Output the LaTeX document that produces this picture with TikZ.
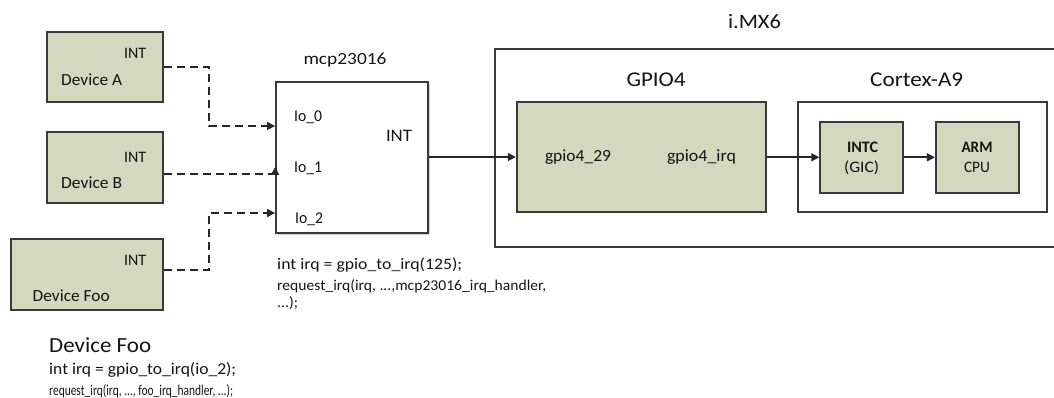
\documentclass[tikz,border=0pt]{standalone}
\usepackage{fontspec}
\usepackage{graphicx}
\setmainfont{Carlito}
\usetikzlibrary{arrows.meta,shadows}
\definecolor{khaki}{HTML}{D3D8BE}
\definecolor{edge}{HTML}{3A3A3A}
% #1 = font size, #2 = target width, #3 = text
\newcommand\fw[3]{{\fontsize{#1}{#1}\selectfont\resizebox{#2pt}{\height}{#3}}}
\tikzset{
  box/.style={draw=edge, line width=1.8pt, inner sep=0pt},
  kbox/.style={box, fill=khaki},
  wbox/.style={box, fill=white},
  conn/.style={draw=black!85, line width=1.6pt, -{Triangle[length=8pt,width=8pt]}},
  dconn/.style={conn, dash pattern=on 8pt off 5pt},
  txt/.style={inner sep=0pt, text=black!92},
  ltxt/.style={txt, anchor=west},
}
\begin{document}
\begin{tikzpicture}[x=1pt,y=-1pt]
\useasboundingbox (0,0) rectangle (1054,398);
% devices
\node[kbox, minimum width=116pt, minimum height=70pt] (devA) at (105,67) {};
\node[kbox, minimum width=116pt, minimum height=71pt] (devB) at (105,167.5) {};
\node[kbox, minimum width=152pt, minimum height=71pt] (devF) at (87,274.5) {};
\node[txt] (intA) at (135,53) {\fw{16}{22}{INT}};
\node[txt] (intB) at (135,157) {\fw{16}{22}{INT}};
\node[txt] (intF) at (135,260) {\fw{16}{22}{INT}};
\node[ltxt] (nA) at (61,80) {\fw{17}{61}{Device A}};
\node[ltxt] (nB) at (61,183) {\fw{17}{61}{Device B}};
\node[ltxt] (nF) at (32.5,296) {\fw{17}{77}{Device Foo}};
% mcp23016
\node[wbox, drop shadow={shadow xshift=2pt, shadow yshift=-2pt, opacity=0.35}, minimum width=152pt, minimum height=151pt] (mcp) at (352,157.5) {};
\node[txt] (mcpt) at (345,60) {\fw{17}{83}{mcp23016}};
\node[ltxt] (io0) at (294,117) {\fw{16.5}{28}{Io\_0}};
\node[ltxt] (io1) at (294,168.5) {\fw{16.5}{28}{Io\_1}};
\node[ltxt] (io2) at (295,219.5) {\fw{16.5}{28}{Io\_2}};
\node[txt] (mint) at (399,136) {\fw{17.5}{26}{INT}};
\coordinate (p0) at (mcp.west |- 0,126);
\coordinate (p1) at (mcp.west |- 0,167);
\coordinate (p2) at (mcp.west |- 0,213);
\draw[dconn] (devA.east |- 0,67) -| (209,126) -- (p0);
\draw[dconn] (devB.east |- 0,174) -| (p1);
\draw[dconn] (devF.east |- 0,270) -| (209,213) -- (p2);
\node[ltxt] (c1) at (277,265) {\fw{16}{185}{int irq = gpio\_to\_irq(125);}};
\node[ltxt] (c2) at (277,286) {\fw{15}{269}{request\_irq(irq, ...,mcp23016\_irq\_handler,}};
\node[ltxt] (c3) at (277,303) {\fw{15}{21}{...);}};
% i.MX6
\node[wbox, minimum width=561pt, minimum height=198pt] (imx) at (775.5,148) {};
\node[txt] (imxt) at (754.5,22) {\fw{20.5}{53}{i.MX6}};
\node[kbox, minimum width=249pt, minimum height=110pt] (gpio) at (641.2,157.3) {};
\node[txt] (gpiot) at (656,79.5) {\fw{21}{59}{GPIO4}};
\node[txt] (g29) at (578,157.5) {\fw{17}{66}{gpio4\_29}};
\node[txt] (girq) at (701.5,157.5) {\fw{17}{69}{gpio4\_irq}};
\node[wbox, minimum width=249pt, minimum height=110pt] (cortex) at (922.2,157.3) {};
\node[txt] (cortext) at (916.7,79.5) {\fw{21}{93}{Cortex-A9}};
\node[kbox, minimum width=83pt, minimum height=71pt] (intc) at (861.7,157.8) {};
\node[kbox, minimum width=83pt, minimum height=71pt] (arm) at (977.3,157.8) {};
\node[txt] (intct) at (862.5,147.5) {\fw{16}{31}{\bfseries INTC}};
\node[txt] (gict) at (861.5,167.5) {\fw{16}{35}{(GIC)}};
\node[txt] (armt) at (977,147.5) {\fw{16}{31}{\bfseries ARM}};
\node[txt] (cput) at (977,167.5) {\fw{16}{26}{CPU}};
\draw[conn] (mcp.east |- 0,157) -- (gpio.west |- 0,157);
\draw[conn] (gpio.east |- 0,157.3) -- (intc.west |- 0,157.3);
\draw[conn] (intc.east |- 0,157.3) -- (arm.west |- 0,157.3);
% bottom text
\node[ltxt] (df) at (49,345) {\fw{21.5}{102}{Device Foo}};
\node[ltxt] (d1) at (49,370) {\fw{16.5}{187}{int irq = gpio\_to\_irq(io\_2);}};
\node[ltxt] (d2) at (49,391) {\fw{15}{184}{request\_irq(irq, ..., foo\_irq\_handler, ...);}};
\end{tikzpicture}
\end{document}
